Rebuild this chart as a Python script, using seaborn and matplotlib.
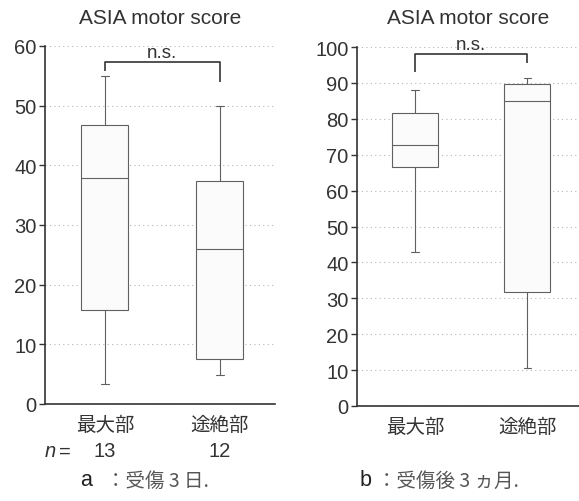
import numpy as np
import pandas as pd
import matplotlib
matplotlib.use("Agg")
import matplotlib.pyplot as plt
import seaborn as sns

# ---- data (five-number summaries) ----
sites = ["最大部", "途絶部"]
a_maxpart = [3.4, 15.8, 37.9, 46.7, 55.0]     # min, Q1, median, Q3, max
a_cutpart = [4.9, 7.5, 26.0, 37.4, 50.0]
b_maxpart = [43.0, 66.6, 72.6, 81.6, 88.1]
b_cutpart = [10.5, 31.7, 85.0, 89.7, 91.4]
n_counts = ["13", "12"]
a_ticks = [0, 10, 20, 30, 40, 50, 60]
b_ticks = [0, 10, 20, 30, 40, 50, 60, 70, 80, 90, 100]
title = "ASIA motor score"
caption_a = ("a", "：受傷 3 日.")
caption_b = ("b", "：受傷後 3 ヵ月.")

sns.set_theme(style="white")
plt.rcParams["font.family"] = ["Liberation Sans", "Noto Sans CJK JP", "DejaVu Sans"]
plt.rcParams["text.color"] = "#333333"

W, H = 579, 502
fig = plt.figure(figsize=(W / 100, H / 100), dpi=100)


def fx(px):
    return px / W


def fy(py):
    return 1 - py / H


def make_df(g1, g2):
    return pd.DataFrame({
        "site": [sites[0]] * len(g1) + [sites[1]] * len(g2),
        "score": list(g1) + list(g2),
    })


def panel(rect, df, ticks, ymax, bracket, ns_y, xlim):
    ax = fig.add_axes(rect)
    sns.boxplot(data=df, x="site", y="score", order=sites, whis=np.inf,
                width=0.41, color="#fbfbfb", saturation=1, linecolor="#606060",
                linewidth=0.8, capwidths=0.07, ax=ax)
    ax.set_ylim(0, ymax)
    ax.set_xlim(*xlim)
    ax.set_yticks(ticks)
    ax.yaxis.grid(True, linestyle=(0, (1, 3)), color="#b5b5b5", linewidth=0.8)
    ax.set_axisbelow(True)
    for s in ["top", "right"]:
        ax.spines[s].set_visible(False)
    for s in ["left", "bottom"]:
        ax.spines[s].set_color("#333333")
        ax.spines[s].set_linewidth(1.2)
    ax.set_xlabel("")
    ax.set_ylabel("")
    ax.tick_params(axis="y", length=4, width=1.0, color="#333333", pad=2,
                   labelsize=14.5, labelcolor="#333333", left=True)
    ax.tick_params(axis="x", length=0, pad=7, labelsize=14, labelcolor="#333333")
    for lab in ax.get_xticklabels():
        lab.set_fontfamily(["Noto Sans CJK JP"])
    # significance bracket
    ax.plot([0, 0, 1, 1], bracket, color="#333333", lw=1.2, clip_on=False,
            solid_capstyle="butt")
    ax.text(0.5, ns_y, "n.s.", ha="center", va="bottom", fontsize=13.5,
            color="#333333", clip_on=False)
    return ax


ax_a = panel([fx(45), fy(405), fx(275) - fx(45), fy(47) - fy(405)],
             make_df(a_maxpart, a_cutpart), a_ticks, 60,
             [55.8, 57.3, 57.3, 54.0], 57.5, (-0.52, 1.48))
ax_b = panel([fx(357), fy(407), fx(579) - fx(357), fy(48) - fy(407)],
             make_df(b_maxpart, b_cutpart), b_ticks, 100,
             [92.9, 98.0, 98.0, 95.5], 98.3, (-0.52, 1.46))

# titles
fig.text(fx(160), fy(18), title, ha="center", va="center", fontsize=15)
fig.text(fx(468), fy(18), title, ha="center", va="center", fontsize=15)

# n row under panel a
fig.text(fx(45), fy(452), "n", style="italic", ha="left", va="center", fontsize=14.5)
fig.text(fx(59), fy(452), "=", ha="left", va="center", fontsize=14.5)
for i, n in enumerate(n_counts):
    x_disp = ax_a.transData.transform((i, 0))[0]
    fig.text(x_disp / W, fy(452), n, ha="center", va="center", fontsize=14.5)

# captions
fig.text(fx(86), fy(481), caption_a[0], ha="center", va="center", fontsize=15.5,
         color="#222222")
fig.text(fx(106), fy(481), caption_a[1], ha="left", va="center", fontsize=14,
         family=["Noto Sans CJK JP"], color="#555555")
fig.text(fx(366), fy(481), caption_b[0], ha="center", va="center", fontsize=15.5,
         color="#222222")
fig.text(fx(377), fy(481), caption_b[1], ha="left", va="center", fontsize=14,
         family=["Noto Sans CJK JP"], color="#555555")

fig.savefig("out.png", dpi=100)
